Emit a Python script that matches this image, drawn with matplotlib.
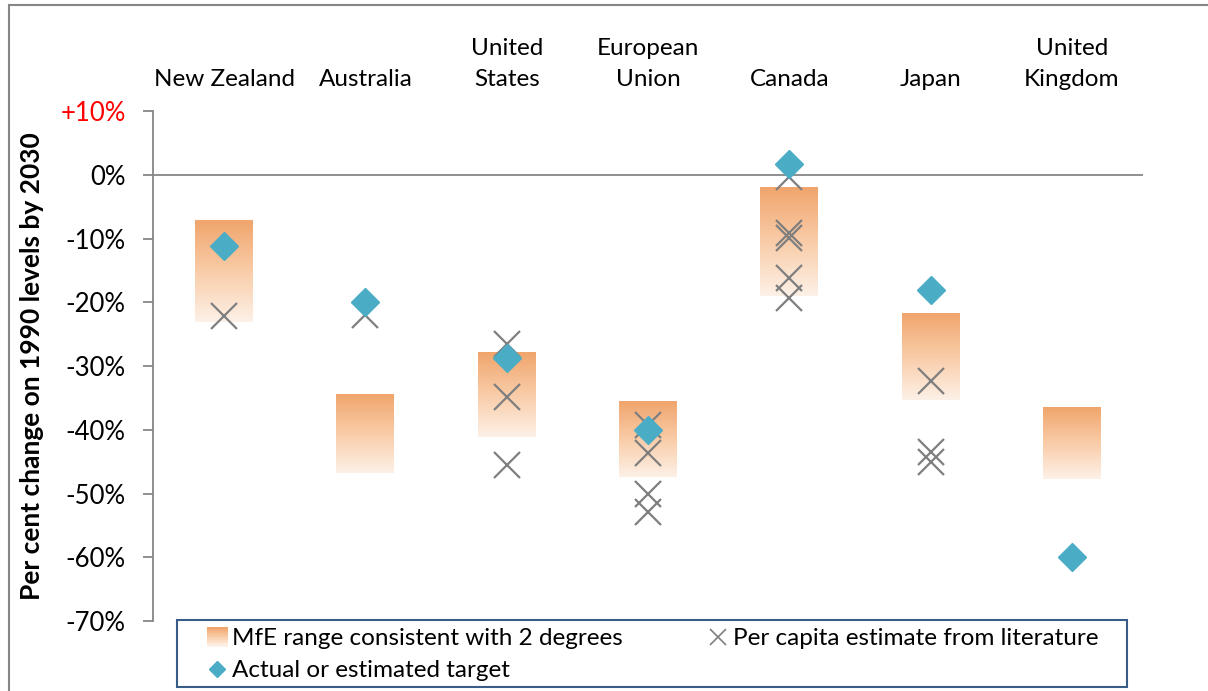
import numpy as np
import matplotlib
matplotlib.use("Agg")
import matplotlib.pyplot as plt
from matplotlib.colors import LinearSegmentedColormap
from matplotlib.patches import Rectangle
from matplotlib.lines import Line2D
from matplotlib.legend_handler import HandlerBase

plt.rcParams['font.family'] = ['Lato', 'DejaVu Sans']

# 数据
countries = ['New Zealand', 'Australia', 'United\nStates', 'European\nUnion',
             'Canada', 'Japan', 'United\nKingdom']
range_top = [-7.2, -34.5, -27.9, -35.6, -1.9, -21.7, -36.4]
range_bottom = [-23.1, -46.8, -41.1, -47.4, -19.0, -35.3, -47.7]
targets = [-11.1, -20.0, -28.7, -40.0, 1.7, -18.0, -60.0]
per_capita = [
    [-22.1],
    [-22.0],
    [-26.5, -34.8, -45.5],
    [-39.2, -43.6, -50.0, -52.9],
    [-0.3, -9.1, -9.9, -16.2, -19.3],
    [-32.3, -43.4, -45.0],
    [],
]
yticks = [10, 0, -10, -20, -30, -40, -50, -60, -70]
ytick_labels = ['+10%', '0%', '-10%', '-20%', '-30%', '-40%', '-50%', '-60%', '-70%']

grad_cmap = LinearSegmentedColormap.from_list(
    'mfe', ['#F0A56C', '#F9CCA8', '#FDF1E7'])
diamond_color = '#4BACC6'
cross_color = '#7F7F7F'

fig = plt.figure(figsize=(12.08, 6.91), dpi=100)
ax = fig.add_axes([0.1270, 0.1013, 0.8189, 0.7376])

# 外框
fig.patches.append(Rectangle((9 / 1208, -0.1), 1.2, 1 - 5 / 691 + 0.1,
                             transform=fig.transFigure, fill=False,
                             edgecolor='#868686', lw=1.5))

bar_w = 0.41
grad = np.linspace(0, 1, 256).reshape(-1, 1)
for i in range(len(countries)):
    ax.imshow(grad, extent=[i - bar_w / 2, i + bar_w / 2, range_bottom[i], range_top[i]],
              origin='upper', aspect='auto', cmap=grad_cmap, zorder=2)

for i, vals in enumerate(per_capita):
    if vals:
        ax.plot([i] * len(vals), vals, linestyle='none', marker='x', ms=19,
                mew=1.6, color=cross_color, zorder=3)

ax.plot(range(len(countries)), targets, linestyle='none', marker='D', ms=14.5,
        color=diamond_color, mec=diamond_color, zorder=4)

ax.axhline(0, color='#868686', lw=1.3, zorder=1)

ax.set_xlim(-0.5, 6.5)
ax.set_ylim(-70, 10)

for s in ['top', 'right', 'bottom']:
    ax.spines[s].set_visible(False)
ax.spines['left'].set_color('#868686')
ax.spines['left'].set_linewidth(1.3)
ax.set_xticks([])
ax.set_yticks(yticks)
ax.set_yticklabels(ytick_labels, fontsize=18.5)
ax.tick_params(axis='y', direction='out', length=7, width=1.3, color='#868686', pad=13)
ax.get_yticklabels()[0].set_color('#FF0000')

ax.set_ylabel('Per cent change on 1990 levels by 2030', fontsize=19,
              fontweight='bold', labelpad=12)

for i, name in enumerate(countries):
    ax.text(i, 13.3, name, ha='center', va='bottom', fontsize=17.5,
            linespacing=1.6, clip_on=False)


# 图例句柄：贴在句柄框右侧
class GradientHandler(HandlerBase):
    def create_artists(self, legend, orig_handle, xdescent, ydescent,
                       width, height, fontsize, trans):
        n = 12
        side_w = 15
        side_h = height * 1.15
        x0 = width - side_w
        arts = []
        for k in range(n):
            c = grad_cmap(k / (n - 1))
            r = Rectangle((x0, -ydescent + side_h * (1 - (k + 1) / n) - 0.1 * height),
                          side_w, side_h / n + 0.3, facecolor=c, edgecolor='none',
                          transform=trans)
            arts.append(r)
        return arts


class MarkerHandler(HandlerBase):
    def create_artists(self, legend, orig_handle, xdescent, ydescent,
                       width, height, fontsize, trans):
        ln = Line2D([width - 8], [height / 2 - ydescent], linestyle='none',
                    marker=orig_handle.get_marker(), ms=orig_handle.get_markersize(),
                    mew=orig_handle.get_markeredgewidth(),
                    color=orig_handle.get_color(), transform=trans)
        return [ln]


bar_handle = Rectangle((0, 0), 1, 1)
d_handle = Line2D([], [], linestyle='none', marker='D', ms=8, color=diamond_color)
x_handle = Line2D([], [], linestyle='none', marker='x', ms=12, mew=1.2, color=cross_color)

# 图例边框单独画，图例本身不带框
fig.patches.append(Rectangle((177 / 1208, 1 - 687 / 691), 950 / 1208, 67 / 691,
                             transform=fig.transFigure, fill=False,
                             edgecolor='#385D8A', lw=1.5, zorder=5))

leg = fig.legend([bar_handle, d_handle, x_handle],
                 ['MfE range consistent with 2 degrees', 'Actual or estimated target',
                  'Per capita estimate from literature'],
                 handler_map={bar_handle: GradientHandler(),
                              d_handle: MarkerHandler(),
                              x_handle: MarkerHandler()},
                 ncol=2, mode='expand',
                 bbox_to_anchor=(177 / 1208, 1 - 686 / 691, 926 / 1208, 67 / 691),
                 loc='lower left', fontsize=17.5, frameon=False,
                 borderpad=0.2, handlelength=1.9, handletextpad=0.15,
                 labelspacing=0.45, borderaxespad=0)

fig.savefig('out.png', dpi=100)
